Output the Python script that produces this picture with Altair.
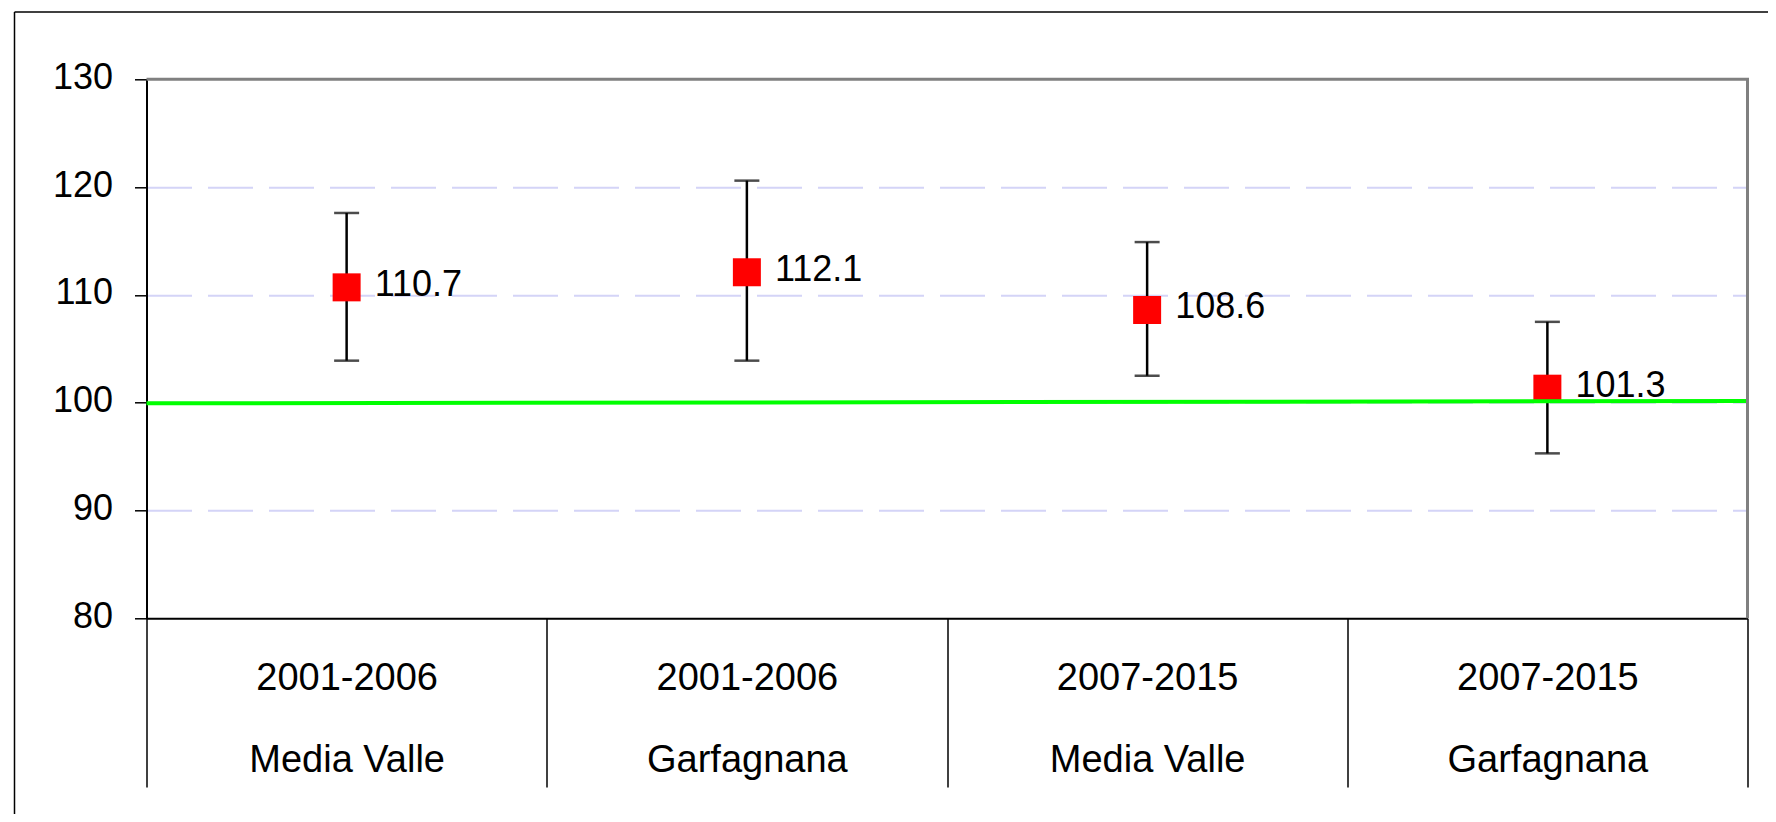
import altair as alt
import pandas as pd

# ---- data ----
periods = ["2001-2006", "2001-2006", "2007-2015", "2007-2015"]
areas = ["Media Valle", "Garfagnana", "Media Valle", "Garfagnana"]
values = [110.7, 112.1, 108.6, 101.3]
lower = [103.9, 103.9, 102.5, 95.3]
upper = [117.6, 120.6, 114.9, 107.5]
y_ticks = [80, 90, 100, 110, 120, 130]
reference_line = [99.94, 100.16]  # green line, left end / right end

FONT = "Liberation Sans"
W, H = 1601, 539

cats = [f"{p}|{a}" for p, a in zip(periods, areas)]
df = pd.DataFrame({
    "cat": cats,
    "value": values,
    "lower": lower,
    "upper": upper,
    "label": [f"{v:.1f}" for v in values],
})

x_axis = alt.Axis(
    title=None, labelExpr="split(datum.label, '|')", labelAngle=0,
    labelFont=FONT, labelFontSize=38, labelColor="black", labelLineHeight=82,
    labelPadding=-127.5, labelLimit=0, labelOverlap=False,
    tickBand="extent", tickSize=168.7, tickColor="black", tickWidth=1.5,
    domainColor="black", domainWidth=2, grid=False,
)
y_axis = alt.Axis(
    title=None, values=y_ticks, labelFont=FONT, labelFontSize=36,
    labelColor="black", labelPadding=22, labelOffset=-2,
    tickSize=12, tickColor="black", tickWidth=1.5,
    domainColor="black", domainWidth=2,
    grid=True, gridColor="#D4D4F7", gridDash=[45, 16], gridWidth=2,
    gridOpacity=alt.condition("datum.value == 80 || datum.value == 130",
                              alt.value(0), alt.value(1)),
)
x_scale = alt.Scale(paddingInner=0, paddingOuter=0)
y_scale = alt.Scale(domain=[80, 130], nice=False, zero=False)

X = alt.X("cat:N", sort=cats, scale=x_scale, axis=x_axis)

base = alt.Chart(df)

bars = base.mark_rule(color="black", strokeWidth=2.5).encode(
    x=X, y=alt.Y("lower:Q", scale=y_scale, axis=y_axis), y2="upper:Q"
)
cap_hi = base.mark_tick(color="black", thickness=2.5, size=25, orient="horizontal").encode(
    x=X, y=alt.Y("upper:Q", scale=y_scale, axis=y_axis)
)
cap_lo = base.mark_tick(color="black", thickness=2.5, size=25, orient="horizontal").encode(
    x=X, y=alt.Y("lower:Q", scale=y_scale, axis=y_axis)
)
points = base.mark_square(size=784, color="#FF0000", opacity=1, filled=True).encode(
    x=X, y=alt.Y("value:Q", scale=y_scale, axis=y_axis)
)
labels = base.mark_text(
    align="left", baseline="alphabetic", dx=28, dy=8.5,
    font=FONT, fontSize=36, color="black"
).encode(x=X, y=alt.Y("value:Q", scale=y_scale, axis=y_axis), text="label:N")

ref_df = pd.DataFrame({"y_start": [reference_line[0]], "y_end": [reference_line[1]]})
green = alt.Chart(ref_df).mark_rule(color="#00FF00", strokeWidth=4).encode(
    x=alt.value(0), x2=alt.value(W),
    y=alt.Y("y_start:Q", scale=y_scale, axis=y_axis), y2="y_end:Q",
)

frame_df = pd.DataFrame({"k": [0]})
# plot-area border (top and right, grey)
border_top = alt.Chart(frame_df).mark_rule(color="#808080", strokeWidth=3).encode(
    x=alt.value(0), x2=alt.value(W + 1.5), y=alt.value(0)
)
border_right = alt.Chart(frame_df).mark_rule(color="#808080", strokeWidth=3).encode(
    x=alt.value(W), y=alt.value(0), y2=alt.value(H)
)
# outer chart frame (left and top)
frame_left = alt.Chart(frame_df).mark_rule(color="black", strokeWidth=1.5).encode(
    x=alt.value(-132), y=alt.value(-67.3), y2=alt.value(760)
)
frame_top = alt.Chart(frame_df).mark_rule(color="black", strokeWidth=1.5).encode(
    x=alt.value(-132), x2=alt.value(1660), y=alt.value(-67.3)
)

chart = alt.layer(
    bars, cap_hi, cap_lo, points, labels, green,
    border_top, border_right, frame_left, frame_top
).properties(
    width=W, height=H,
    padding={"left": 138.5, "top": 71.3, "right": 20.5, "bottom": 195.7},
    autosize=alt.AutoSizeParams(type="none"),
).configure_view(
    stroke=None
).configure(background="white")

chart.save("out.html", embed_options={"renderer": "svg", "actions": False})
